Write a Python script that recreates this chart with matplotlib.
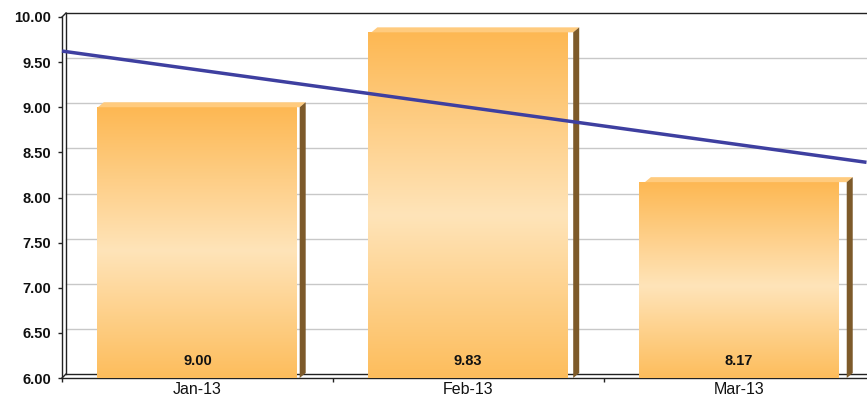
import numpy as np
import matplotlib
matplotlib.use("Agg")
import matplotlib.pyplot as plt
from matplotlib import font_manager
from matplotlib.colors import LinearSegmentedColormap
from matplotlib.patches import Polygon
from matplotlib.transforms import ScaledTranslation, IdentityTransform

# --- data -------------------------------------------------------------
categories = ["Jan-13", "Feb-13", "Mar-13"]
values = [9.00, 9.83, 8.17]
y_ticks = [6.0, 6.5, 7.0, 7.5, 8.0, 8.5, 9.0, 9.5, 10.0]

# --- fonts ------------------------------------------------------------
installed = {f.name for f in font_manager.fontManager.ttflist}
narrow = "Liberation Sans Narrow" if "Liberation Sans Narrow" in installed else "Liberation Sans"
regular = "Liberation Sans"
num_size = 11.5 if narrow == "Liberation Sans Narrow" else 10.5

# --- figure / axes ----------------------------------------------------
W, H = 867, 399
DPI = 100
fig = plt.figure(figsize=(W / DPI, H / DPI), dpi=DPI)
fig.patch.set_facecolor("white")

cat_px = 271.0          # pixel width of one category slot
left_px = 62.0
xmin = -0.5
xmax = xmin + (W - left_px) / cat_px
ax_w = (xmax - xmin) * cat_px * 1.0093
ax = fig.add_axes([left_px / W, 21 / H, ax_w / W, 361 / H])
ax.set_facecolor("none")
ymin, ymax = 6.0, 10.0
ax.set_xlim(xmin, xmax)
ax.set_ylim(ymin, ymax)

for s in ("top", "right"):
    ax.spines[s].set_visible(False)
for s in ("left", "bottom"):
    ax.spines[s].set_color("#222222")
    ax.spines[s].set_linewidth(1.0)

px = 1.0 / DPI


def shifted(dx, dy):
    return ax.transData + ScaledTranslation(dx * px, dy * px, fig.dpi_scale_trans)


# back wall (shifted into depth)
wall = shifted(4, 4)
for yv in y_ticks[1:-1]:
    ax.plot([xmin, xmax + 1], [yv, yv], color="#C8C8C8", lw=1.0,
            transform=wall, clip_on=False, zorder=0)
ax.plot([xmin, xmax + 1], [ymax, ymax], color="#222222", lw=1.0,
        transform=wall, clip_on=False, zorder=1)
ax.plot([xmin, xmax + 1], [ymin, ymin], color="#222222", lw=1.0,
        transform=wall, clip_on=False, zorder=1)
ax.plot([xmin, xmin], [ymin, ymax], color="#222222", lw=1.0,
        transform=wall, clip_on=False, zorder=1)


def disp(x, y):
    return ax.transData.transform((x, y))


# corner connectors between front axes and back wall
for yv in (ymin, ymax):
    p = disp(xmin, yv)
    ax.add_line(plt.Line2D([p[0], p[0] + 4], [p[1], p[1] + 4],
                           transform=IdentityTransform(), color="#222222",
                           lw=1.0, clip_on=False, zorder=1))

# --- bars with vertical gradient -------------------------------------
grad = LinearSegmentedColormap.from_list(
    "barfill",
    [(0.0, "#FDBD5C"), (0.47, "#FFE4B9"), (1.0, "#FDB853")])
bar_w = 200 / cat_px
depth_x, depth_y = 6, 5
gradient = np.linspace(0, 1, 256).reshape(-1, 1)

for i, v in enumerate(values):
    x0, x1 = i - bar_w / 2, i + bar_w / 2
    ax.imshow(gradient, cmap=grad, origin="lower", aspect="auto",
              extent=[x0, x1, ymin, v], zorder=3, interpolation="bilinear")
    # top face
    a, b = disp(x0, v), disp(x1, v)
    top = Polygon([a, b, (b[0] + depth_x, b[1] + depth_y),
                   (a[0] + depth_x, a[1] + depth_y)],
                  closed=True, facecolor="#FFCB7E", edgecolor="none",
                  transform=IdentityTransform(), clip_on=False, zorder=3)
    ax.add_patch(top)
    # side face
    c = disp(x1, ymin)
    side = Polygon([c, b, (b[0] + depth_x, b[1] + depth_y),
                    (c[0] + depth_x, c[1] + depth_y)],
                   closed=True, facecolor="#7D5A2A", edgecolor="none",
                   transform=IdentityTransform(), clip_on=False, zorder=3)
    ax.add_patch(side)
    # value label near the bottom of the bar
    ax.text(i, ymin, f"{v:.2f}", transform=shifted(0, 17),
            ha="center", va="center", fontsize=num_size, fontweight="bold",
            family=narrow, color="#111111", zorder=5)

ax.set_xlim(xmin, xmax)
ax.set_ylim(ymin, ymax)

# --- linear trend over the bar values --------------------------------
xs = np.arange(len(values))
slope, intercept = np.polyfit(xs, values, 1)
tx = np.array([xmin, xmax])
ax.plot(tx, slope * tx + intercept, color="#3E3FA0", lw=2.5,
        solid_capstyle="butt", zorder=6, clip_on=False)

# --- ticks ------------------------------------------------------------
ax.set_yticks(y_ticks)
ax.set_yticklabels([f"{t:.2f}" for t in y_ticks])
ax.tick_params(axis="y", length=3, width=1, color="#222222", pad=5,
               labelsize=num_size, labelcolor="#111111")
for lab in ax.get_yticklabels():
    lab.set_fontfamily(narrow)
    lab.set_fontweight("bold")

ax.set_xticks([xmin, 0.5, 1.5, 2.5])
ax.set_xticklabels([])
ax.set_xticks(xs, minor=True)
ax.set_xticklabels(categories, minor=True)
ax.tick_params(axis="x", which="major", length=3, width=1, color="#222222")
ax.tick_params(axis="x", which="minor", length=0, pad=3, labelsize=11.5,
               labelcolor="#111111")
for lab in ax.get_xticklabels(minor=True):
    lab.set_fontfamily(regular)

fig.savefig("out.png", dpi=DPI)
